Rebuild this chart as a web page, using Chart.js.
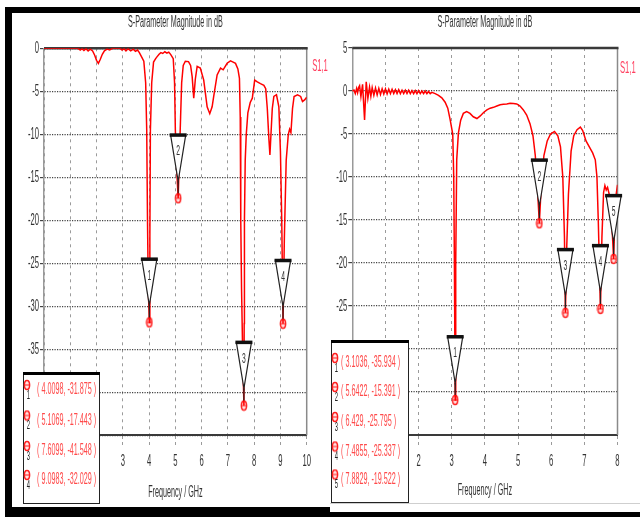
<!DOCTYPE html>
<html><head><meta charset="utf-8">
<script src="https://cdn.jsdelivr.net/npm/chart.js@4.4.1/dist/chart.umd.min.js"></script>
<style>
html,body{margin:0;padding:0;background:#fff;width:640px;height:517px;overflow:hidden;position:relative}
.bk{position:absolute;background:#000}
canvas{position:absolute}
</style></head><body>
<div class="bk" style="left:5px;top:7px;width:635px;height:6px"></div>
<div class="bk" style="left:5px;top:7px;width:7px;height:510px"></div>
<div class="bk" style="left:5px;top:507px;width:325px;height:10px"></div>
<div class="bk" style="left:320px;top:512px;width:320px;height:5px"></div>
<div style="position:absolute;left:330px;top:503px;width:310px;height:1px;background:#cfcfcf"></div>
<canvas id="c1" width="318" height="494" style="left:12px;top:13px"></canvas>
<canvas id="c2" width="310" height="494" style="left:330px;top:13px"></canvas>
<script>
// ---------- DATA ----------
const leftFreq = [0,0.5,1.0,1.3,1.38,1.45,1.52,1.6,1.68,1.76,1.85,1.93,2.0,2.07,2.14,2.22,2.3,2.4,2.5,2.6,2.9,2.97,3.05,3.12,3.2,3.3,3.4,3.48,3.56,3.63,3.7,3.8,3.87,3.91,3.94,3.97,4.0098,4.03,4.05,4.1,4.17,4.25,4.3,4.38,4.45,4.52,4.6,4.68,4.75,4.82,4.92,4.97,5.0,5.05,5.1069,5.15,5.2,5.24,5.3,5.38,5.5,5.58,5.64,5.7,5.76,5.83,5.95,6.08,6.21,6.31,6.4,6.46,6.59,6.72,6.82,6.97,7.1,7.2,7.29,7.38,7.44,7.47,7.49,7.52,7.56,7.6099,7.62,7.63,7.66,7.7,7.76,7.85,7.93,8.02,8.12,8.24,8.37,8.44,8.5,8.56,8.6,8.64,8.69,8.75,8.85,8.94,9.0,9.05,9.0983,9.15,9.22,9.3,9.35,9.4,9.46,9.52,9.65,9.77,9.84,9.92,10];
const leftS11 = [0,0,0,0,-0.2,-0.05,-0.25,-0.05,-0.3,-0.1,-0.3,-0.8,-1.4,-1.75,-1.3,-0.7,-0.3,-0.1,-0.2,0,0,-0.2,-0.05,-0.3,-0.05,-0.3,-0.1,-0.35,-0.2,-0.5,-0.9,-1.5,-4,-9.5,-20,-28,-31.875,-22,-9.5,-4,-1.6,-1.2,-1.0,-0.7,-0.5,-0.6,-0.4,-0.55,-0.45,-0.7,-1.2,-4,-9.5,-14,-17.443,-13,-8,-4,-2.0,-1.5,-1.55,-2.0,-3.3,-5.8,-3.6,-2.1,-2.3,-3.7,-6.8,-7.6,-6.8,-5.6,-3.1,-2.3,-2.5,-1.74,-1.45,-1.6,-1.75,-2.4,-3.5,-8,-20,-28,-35,-41.548,-32,-20,-13,-10,-7.5,-6.3,-5.8,-3.7,-3.9,-4.1,-4.3,-4.7,-7,-10.5,-12.4,-10,-7,-5.6,-5.4,-6.8,-12,-20,-32.029,-22,-13,-10,-9.4,-9.8,-7,-5.6,-5.4,-5.6,-6.2,-6.0,-5.7];

const rightFreq = [0,0.05,0.09,0.13,0.16,0.19,0.22,0.26,0.31,0.37,0.42,0.47,0.52,0.56,0.6,0.65,0.7,0.75,0.8,0.85,0.9,0.95,1.0,1.05,1.1,1.15,1.2,1.25,1.3,1.35,1.4,1.45,1.5,1.55,1.6,1.65,1.7,1.75,1.8,1.85,1.9,1.95,2.0,2.05,2.1,2.15,2.2,2.25,2.3,2.35,2.4,2.5,2.6,2.7,2.8,2.88,2.95,3.03,3.06,3.08,3.1036,3.12,3.15,3.2,3.27,3.35,3.45,3.55,3.65,3.76,3.86,3.96,4.06,4.16,4.26,4.36,4.46,4.56,4.66,4.76,4.86,4.96,5.06,5.16,5.26,5.36,5.45,5.52,5.58,5.6422,5.7,5.78,5.88,5.98,6.1,6.2,6.28,6.35,6.4,6.429,6.47,6.52,6.6,6.68,6.78,6.88,6.95,7.05,7.15,7.25,7.33,7.38,7.42,7.4855,7.53,7.58,7.62,7.66,7.7,7.75,7.8,7.85,7.8829,7.92,7.96,8.0];
const rightS11 = [0,0.1,-0.3,0.3,-0.2,0.4,0.62,-0.66,0.77,-3.37,1.08,-0.85,0.45,-0.6,0.4,-0.5,0.35,-0.45,0.3,-0.4,0.25,-0.35,0.25,-0.35,0.2,-0.3,0.2,-0.3,0.15,-0.3,0.15,-0.3,0.1,-0.3,0.1,-0.3,0.1,-0.3,0.05,-0.3,0.05,-0.3,0.05,-0.3,0.0,-0.3,0.0,-0.3,-0.05,-0.3,-0.15,-0.3,-0.5,-0.8,-1.3,-2.0,-3.3,-5,-10,-20,-35.934,-20,-8,-4.9,-3.4,-2.6,-2.4,-2.6,-3.0,-3.2,-2.9,-2.5,-2.2,-2.0,-1.9,-1.75,-1.6,-1.55,-1.5,-1.43,-1.45,-1.5,-1.75,-2.2,-2.8,-3.8,-5.2,-7.5,-11,-15.391,-11,-7.5,-5.8,-5.0,-4.7,-5.2,-6.5,-10,-17,-25.795,-18,-12,-7,-5.2,-4.5,-4.2,-4.6,-5.8,-6.5,-7.2,-8.0,-10,-15,-25.337,-17,-11.8,-11.0,-11.5,-11.2,-12.0,-14,-17,-19.522,-15,-12,-10.9];

const leftMarkerFreq = [4.0098, 5.1069, 7.6099, 9.0983];
const leftMarkerDb = [-31.875, -17.443, -41.548, -32.029];
const rightMarkerFreq = [3.1036, 5.6422, 6.429, 7.4855, 7.8829];
const rightMarkerDb = [-35.934, -15.391, -25.795, -25.337, -19.522];

const leftXTicks = [0,1,2,3,4,5,6,7,8,9,10];
const leftXLabels = ['0','1','2','3','4','5','6','7','8','9','10'];
const leftYTicks = [-45,-40,-35,-30,-25,-20,-15,-10,-5,0];
const leftYLabels = ['-45','-40','-35','-30','-25','-20','-15','-10','-5','0'];
const rightXTicks = [0,1,2,3,4,5,6,7,8];
const rightXLabels = ['0','1','2','3','4','5','6','7','8'];
const rightYTicks = [-40,-35,-30,-25,-20,-15,-10,-5,0,5];
const rightYLabels = ['-40','-35','-30','-25','-20','-15','-10','-5','0','5'];

const chartTitle = 'S-Parameter Magnitude in dB';
const axisTitle = 'Frequency / GHz';
const seriesName = 'S1,1';

// ---------- condensed text rendering ----------
const SX = 0.45;
const FONT = "'Liberation Sans', Arial, sans-serif";
const _fill = CanvasRenderingContext2D.prototype.fillText;
CanvasRenderingContext2D.prototype.fillText = function(t, x, y, mw) {
  this.save(); this.translate(x, y); this.scale(SX, 1);
  if (mw === undefined || mw === null) _fill.call(this, t, 0, 0); else _fill.call(this, t, 0, 0, mw / SX);
  this.restore();
};

function makeMarkerImg() {
  const c = document.createElement('canvas'); c.width = 8; c.height = 12;
  const g = c.getContext('2d');
  g.beginPath(); g.ellipse(4, 6, 2.6, 4.5, 0, 0, Math.PI * 2);
  g.fillStyle = '#ffe2e2'; g.fill(); g.strokeStyle = '#ff2020'; g.lineWidth = 1.5; g.stroke();
  g.beginPath(); g.moveTo(1.6, 6); g.lineTo(6.4, 6); g.lineWidth = 1; g.stroke();
  return c;
}
const markerImg = makeMarkerImg();

function decor(g, mf, mdb) {
  return {
    id: 'decor',
    beforeDatasetsDraw(chart) {
      const {ctx, chartArea: a} = chart;
      ctx.save();
      ctx.strokeStyle = '#8a8a8a'; ctx.lineWidth = 1.5;
      ctx.beginPath(); ctx.moveTo(a.right, a.top); ctx.lineTo(a.right, a.bottom); ctx.stroke();
      ctx.strokeStyle = '#3a3a3a'; ctx.lineWidth = 2.5;
      ctx.beginPath(); ctx.moveTo(a.left, a.top); ctx.lineTo(a.right + 1, a.top); ctx.stroke();
      ctx.restore();
    },
    afterDraw(chart) {
      const {ctx, chartArea: a} = chart;
      const xs = chart.scales.x, ys = chart.scales.y;
      ctx.save();
      ctx.fillStyle = '#333'; ctx.font = '16px ' + FONT; ctx.textAlign = 'center'; ctx.textBaseline = 'middle';
      ctx.fillText(chartTitle, (a.left + a.right) / 2, g.titleY);
      ctx.fillStyle = '#ff4060'; ctx.font = '17px ' + FONT; ctx.textAlign = g.sAlign;
      ctx.fillText(seriesName, g.sX, g.sY);
      mf.forEach((f, i) => {
        const x = xs.getPixelForValue(f), yc = ys.getPixelForValue(mdb[i]);
        const top = yc - 63, tip = yc - 17, hw = 7.5;
        ctx.beginPath(); ctx.moveTo(x - hw, top); ctx.lineTo(x + hw, top); ctx.lineTo(x, tip); ctx.closePath();
        ctx.fillStyle = '#fff'; ctx.fill();
        ctx.strokeStyle = '#222'; ctx.lineWidth = 1.2; ctx.stroke();
        ctx.beginPath(); ctx.moveTo(x, tip); ctx.lineTo(x, yc - 5); ctx.stroke();
        ctx.fillStyle = '#111'; ctx.fillRect(x - hw - 1, top - 2, 2 * hw + 2, 3.5);
        ctx.fillStyle = '#333'; ctx.font = '15px ' + FONT; ctx.textAlign = 'center'; ctx.textBaseline = 'middle';
        ctx.fillText(String(i + 1), x, top + 16);
      });
      const L = g.legend;
      ctx.fillStyle = '#fff'; ctx.fillRect(L.x, L.y, L.w, L.h);
      ctx.strokeStyle = '#222'; ctx.lineWidth = 1; ctx.strokeRect(L.x + 0.5, L.y + 0.5, L.w - 1, L.h - 1);
      ctx.fillStyle = '#000'; ctx.fillRect(L.x, L.y - 1, L.w, 3);
      mf.forEach((f, i) => {
        const ry = L.rows[i];
        ctx.drawImage(markerImg, L.ix - 4, ry - 11);
        ctx.fillStyle = '#222'; ctx.font = '13px ' + FONT; ctx.textAlign = 'center'; ctx.textBaseline = 'middle';
        ctx.fillText(String(i + 1), L.ix + 1.5, ry + 5);
        ctx.fillStyle = '#ff4a4a'; ctx.font = '16px ' + FONT; ctx.textAlign = 'left';
        ctx.fillText('( ' + String(f) + ', ' + String(mdb[i]) + ' )', L.tx, ry);
      });
      ctx.restore();
    }
  };
}

function makeChart(id, freq, db, mf, mdb, xr, yr, xT, xL, yT, yL, g) {
  return new Chart(document.getElementById(id), {
    type: 'line',
    data: {datasets: [
      {data: freq.map((f, i) => ({x: f, y: db[i]})), borderColor: '#ff0000', borderWidth: 1.5, pointRadius: 0, tension: 0, fill: false},
      {data: mf.map((f, i) => ({x: f, y: mdb[i]})), showLine: false, pointStyle: markerImg, pointRadius: 6, borderWidth: 0}
    ]},
    options: {
      responsive: false, animation: false, events: [],
      layout: {padding: {left: 0, top: g.padTop, right: g.padRight, bottom: g.padBottom}},
      plugins: {legend: {display: false}, tooltip: {enabled: false}, title: {display: false}},
      scales: {
        x: {type: 'linear', min: xr[0], max: xr[1],
          afterBuildTicks: s => { s.ticks = xT.map(v => ({value: v})); },
          afterFit: s => { s.height = g.xH; },
          ticks: {autoSkip: false, maxRotation: 0, padding: 6, color: '#333', font: {family: FONT, size: 17},
            callback: (v, i) => xL[i]},
          grid: {color: '#9b9b9b', lineWidth: 1, tickLength: 10, tickColor: '#9b9b9b', tickBorderDash: [3, 3]},
          border: {color: '#3a3a3a', width: 2, dash: [3, 4]},
          title: {display: true, text: axisTitle, color: '#333', font: {family: FONT, size: 16}, padding: 0}
        },
        y: {type: 'linear', min: yr[0], max: yr[1],
          afterBuildTicks: s => { s.ticks = yT.map(v => ({value: v})); },
          afterFit: s => { s.width = g.yW; },
          ticks: {padding: 1, color: '#333', font: {family: FONT, size: 17}, callback: (v, i) => yL[i]},
          grid: {color: '#444', lineWidth: 1.2, tickLength: 4, tickColor: '#444'},
          border: {color: '#999', width: 1.5, dash: [1.2, 1.3]}
        }
      }
    },
    plugins: [decor(g, mf, mdb)]
  });
}

const geomLeft = {padTop: 35.3, padRight: 23.3, padBottom: 4.4, xH: 67.3, yW: 32, titleY: 10,
  sX: 308, sY: 53.5, sAlign: 'center',
  legend: {x: 11, y: 360, w: 77, h: 131, ix: 15, tx: 25, rows: [377, 407.5, 438, 467]}};
const geomRight = {padTop: 35, padRight: 22.5, padBottom: 6.4, xH: 65.6, yW: 22.3, titleY: 10,
  sX: 290, sY: 55, sAlign: 'left',
  legend: {x: 1, y: 328, w: 78, h: 162, ix: 5, tx: 11, rows: [350, 379, 409, 438.5, 466.5]}};

makeChart('c1', leftFreq, leftS11, leftMarkerFreq, leftMarkerDb, [0, 10], [-45, 0], leftXTicks, leftXLabels, leftYTicks, leftYLabels, geomLeft);
makeChart('c2', rightFreq, rightS11, rightMarkerFreq, rightMarkerDb, [0, 8], [-40, 5], rightXTicks, rightXLabels, rightYTicks, rightYLabels, geomRight);
</script>
</body></html>
